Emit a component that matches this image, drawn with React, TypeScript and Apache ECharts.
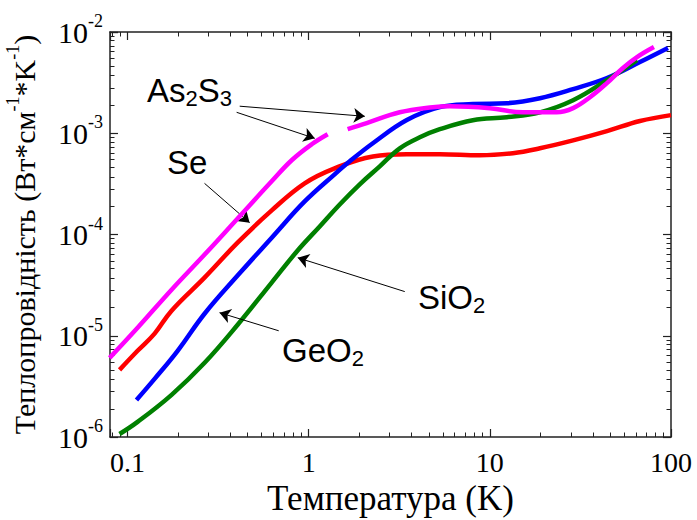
import React, { useEffect, useRef } from "react";
import * as echarts from "echarts";

// Temperature (K), thermal conductivity (W/cm/K) pairs
const as2s3Low: [number, number][] = [
  [0.0796, 6.05e-6], [0.1136, 1.2e-5], [0.175, 2.85e-5], [0.2663, 6.34e-5],
  [0.4053, 1.44e-4], [0.6246, 3.35e-4], [0.8055, 5.41e-4], [1.039, 7.78e-4], [1.273, 9.77e-4],
];
const as2s3High: [number, number][] = [
  [1.64, 1.1e-3], [2.09, 1.26e-3], [3.18, 1.61e-3], [4.84, 1.81e-3], [6.01, 1.85e-3],
  [10, 1.77e-3], [15.2, 1.61e-3], [23.4, 1.61e-3], [28.8, 1.77e-3], [35.7, 2.27e-3],
  [44.3, 3.13e-3], [54.3, 4.41e-3], [64.9, 5.65e-3], [80.5, 7.1e-3],
];
const se: [number, number][] = [
  [0.0903, 4.6e-6], [0.1136, 7.1e-6], [0.141, 1.05e-5], [0.175, 1.77e-5], [0.266, 3.75e-5],
  [0.405, 8.3e-5], [0.625, 1.73e-4], [0.95, 3.2e-4], [1.39, 4.5e-4], [2.26, 5.9e-4],
  [3.48, 6.2e-4], [5.3, 6.2e-4], [8.8, 6.05e-4], [13.4, 6.35e-4], [18.9, 7.1e-4],
  [28.8, 8.5e-4], [44.3, 1.05e-3], [67.4, 1.32e-3], [100, 1.51e-3],
];
const geo2: [number, number][] = [
  [0.112, 2.32e-6], [0.141, 3.75e-6], [0.189, 7.1e-6], [0.266, 1.65e-5], [0.405, 3.93e-5],
  [0.625, 9.3e-5], [0.95, 2.12e-4], [1.39, 3.93e-4], [1.685, 5.28e-4], [2.26, 7.96e-4],
  [3.48, 1.35e-3], [5.3, 1.81e-3], [8.06, 1.94e-3], [12.4, 1.98e-3], [18.9, 2.22e-3],
  [28.8, 2.73e-3], [44.3, 3.51e-3], [67.4, 5.05e-3], [96.2, 6.95e-3],
];
const sio2: [number, number][] = [
  [0.0903, 1.07e-6], [0.1136, 1.41e-6], [0.175, 2.61e-6], [0.2663, 5.41e-6], [0.4053, 1.285e-5],
  [0.6246, 3.35e-5], [0.869, 6.95e-5], [1.15, 1.2e-4], [1.483, 1.98e-4], [1.913, 3.13e-4],
  [2.467, 4.71e-4], [3.183, 7.1e-4], [4.105, 9.12e-4], [5.295, 1.096e-3], [8.057, 1.345e-3],
  [12.4, 1.44e-3], [18.9, 1.61e-3], [28.8, 2.12e-3], [44.3, 3.35e-3], [64.9, 5.28e-3],
];

// annotation arrows: [tail T, tail k, head T, head k] in data coordinates
const arrows: [number, number, number, number][] = [
  [0.4, 1.61e-3, 1.08, 8.9e-4],
  [0.416, 1.85e-3, 2.04, 1.47e-3],
  [0.266, 3.2e-4, 0.472, 1.31e-4],
  [3.39, 2.73e-5, 0.87, 5.9e-5],
  [0.683, 1.12e-5, 0.322, 1.69e-5],
];

const xMin = 0.08;
const xMax = 100;
const yMin = 1e-6;
const yMax = 1e-2;

const SERIF = "'Liberation Serif', 'Times New Roman', serif";
const SANS = "'Liberation Sans', Arial, sans-serif";

const isPow10 = (v: number) => {
  const l = Math.log10(v);
  return Math.abs(l - Math.round(l)) < 1e-6;
};

export default function App() {
  const ref = useRef<HTMLDivElement>(null);
  useEffect(() => {
    if (!ref.current) return;
    const chart = echarts.init(ref.current, undefined, { renderer: "svg" });
    const axisLine = { show: true, lineStyle: { color: "#222", width: 1.5 } };
    const axisTick = { show: true, inside: true, length: 8, lineStyle: { color: "#222", width: 1.2 } };
    const minorTick = { show: true, splitNumber: 10, length: 4.5, lineStyle: { color: "#222", width: 1 } };
    const lineSeries = (name: string, data: [number, number][], color: string, z: number, extra: any = {}) => ({
      name,
      type: "line",
      data,
      smooth: 0.4,
      symbol: "none",
      z,
      lineStyle: { color, width: 4.5 },
      ...extra,
    });
    const subRich = {
      a: { fontSize: 33, fontFamily: SANS, color: "#000" },
      s: { fontSize: 22, fontFamily: SANS, color: "#000", padding: [16, 0, 0, 0] },
    };
    chart.setOption({
      animation: false,
      grid: { left: 110, right: 26, top: 32, bottom: 83, outerBoundsMode: "none", containLabel: false },
      xAxis: [
        {
          type: "log",
          min: xMin,
          max: xMax,
          position: "bottom",
          axisLine,
          axisTick,
          minorTick,
          splitLine: { show: false },
          axisLabel: {
            fontSize: 28,
            fontFamily: SERIF,
            color: "#000",
            margin: 11,
            formatter: (v: number) => (isPow10(v) ? String(Math.round(v * 1000) / 1000) : ""),
          },
          name: "Температура (K)",
          nameLocation: "middle",
          nameGap: 40,
          nameTextStyle: { fontSize: 35, fontFamily: SERIF, color: "#000" },
        },
        {
          type: "log",
          min: xMin,
          max: xMax,
          position: "top",
          axisLine,
          axisTick,
          minorTick,
          splitLine: { show: false },
          axisLabel: { show: false },
        },
      ],
      yAxis: [
        {
          type: "log",
          min: yMin,
          max: yMax,
          position: "left",
          axisLine,
          axisTick,
          minorTick,
          splitLine: { show: false },
          axisLabel: {
            margin: 7,
            formatter: (v: number) => (isPow10(v) ? `{b|10}{s|${Math.round(Math.log10(v))}}` : ""),
            rich: {
              b: { fontSize: 30, fontFamily: SERIF, color: "#000" },
              s: { fontSize: 18, fontFamily: SERIF, color: "#000", padding: [0, 0, 22, 0] },
            },
          },
          name: "{n|Теплопровідність (Вт*см}{s|-1}{n|*K}{s|-1}{n|)}",
          nameLocation: "middle",
          nameRotate: 90,
          nameGap: 66,
          nameTextStyle: {
            rich: {
              n: { fontSize: 30, fontFamily: SERIF, color: "#000" },
              s: { fontSize: 18, fontFamily: SERIF, color: "#000", padding: [0, 0, 22, 0] },
            },
          },
        },
        {
          type: "log",
          min: yMin,
          max: yMax,
          position: "right",
          axisLine,
          axisTick,
          minorTick,
          splitLine: { show: false },
          axisLabel: { show: false },
        },
      ],
      series: [
        lineSeries("Se", se, "#ff0000", 2, {
          markLine: {
            silent: true,
            symbol: ["none", "arrow"],
            symbolSize: 11,
            label: { show: false },
            lineStyle: { color: "#000", width: 1, type: "solid" },
            itemStyle: { color: "#000" },
            emphasis: { disabled: true },
            data: arrows.map(([x1, y1, x2, y2]) => [{ coord: [x1, y1] }, { coord: [x2, y2] }]),
          },
        }),
        lineSeries("GeO2", geo2, "#0000ff", 3),
        lineSeries("SiO2", sio2, "#008000", 4),
        lineSeries("As2S3", as2s3Low, "#ff00ff", 5),
        lineSeries("As2S3 ", as2s3High, "#ff00ff", 5),
      ],
      graphic: [
        { type: "text", x: 147, y: 90, style: { text: "{a|As}{s|2}{a|S}{s|3}", rich: subRich, verticalAlign: "middle" } },
        { type: "text", x: 167, y: 162, style: { text: "{a|Se}", rich: subRich, verticalAlign: "middle" } },
        { type: "text", x: 418, y: 297, style: { text: "{a|SiO}{s|2}", rich: subRich, verticalAlign: "middle" } },
        { type: "text", x: 282, y: 350, style: { text: "{a|GeO}{s|2}", rich: subRich, verticalAlign: "middle" } },
      ],
    });
    return () => chart.dispose();
  }, []);
  return <div ref={ref} style={{ width: 697, height: 520, position: "absolute", left: 0, top: 0 }} />;
}
